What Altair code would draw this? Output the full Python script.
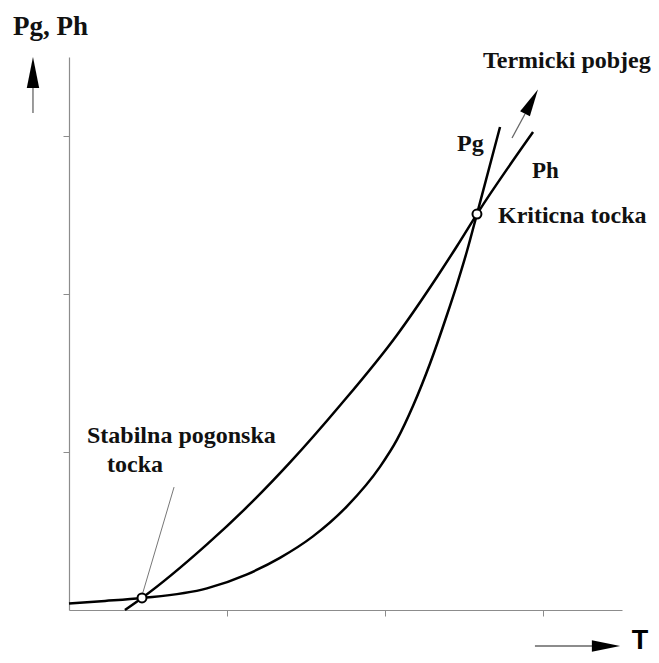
import altair as alt
import pandas as pd

# Ph curve (heat removal) and Pg curve (heat generation) vs temperature T
ph_T = [0.354, 0.462, 0.873, 1.146, 1.399, 1.715, 2.076, 2.329, 2.456, 2.582, 2.937]
ph_P = [0.000, 0.076, 0.415, 0.671, 0.934, 1.294, 1.741, 2.108, 2.304, 2.506, 3.025]
pg_T = [0.000, 0.228, 0.462, 0.873, 1.127, 1.335, 1.544, 1.759, 1.968, 2.076, 2.177,
        2.285, 2.392, 2.456, 2.519, 2.582, 2.728]
pg_P = [0.041, 0.057, 0.076, 0.137, 0.226, 0.330, 0.466, 0.656, 0.906, 1.078, 1.291,
        1.560, 1.867, 2.063, 2.272, 2.506, 3.057]
# operating points: stable and critical
point_T = [0.462, 2.582]
point_P = [0.076, 2.506]
tick_values = [1, 2, 3]

# annotation texts and anchor (data units)
label_text = ["Pg, Ph", "Termicki pobjeg", "Pg", "Ph", "Kriticna tocka", "Stabilna pogonska", "tocka"]
label_T = [-0.354, 2.620, 2.456, 2.930, 2.715, 0.114, 0.241]
label_P = [3.639, 3.430, 2.905, 2.734, 2.449, 1.057, 0.873]
label_fs = [27, 24, 24, 23, 24, 24, 24]

# leader line and arrows (data units)
leader_T = [0.665, 0.466]
leader_P = [0.778, 0.105]
shaft_T = [-0.228, 2.949, 2.804]
shaft_P = [3.146, -0.228, 2.987]
shaft_T2 = [-0.228, 3.310, 2.886]
shaft_P2 = [3.304, -0.228, 3.139]
head_T = [-0.228, 3.399, 2.927]
head_P = [3.402, -0.228, 3.218]
head_angle = [0, 90, 28]
head_size = [961, 800, 760]

xs = alt.Scale(domain=[0, 3.5], nice=False, zero=False)
ys = alt.Scale(domain=[0, 3.5], nice=False, zero=False)

axis_x = alt.Axis(values=tick_values, labels=False, title=None, grid=False, domainColor="#8c8c8c",
                  tickColor="#8c8c8c", tickSize=6, domainWidth=1.2, tickWidth=1)
axis_y = alt.Axis(values=tick_values, labels=False, title=None, grid=False, domainColor="#8c8c8c",
                  tickColor="#8c8c8c", tickSize=6, domainWidth=1.2, tickWidth=1)

X = alt.X("T:Q", scale=xs, axis=axis_x)
Y = alt.Y("P:Q", scale=ys, axis=axis_y)

curves = pd.DataFrame({
    "T": ph_T + pg_T,
    "P": ph_P + pg_P,
    "curve": ["Ph"] * len(ph_T) + ["Pg"] * len(pg_T),
    "order": list(range(len(ph_T))) + list(range(len(pg_T))),
})

lines = alt.Chart(curves).mark_line(color="black", strokeWidth=2.5, interpolate="monotone").encode(
    x=X, y=Y, detail="curve:N", order="order:Q",
)

pts = alt.Chart(pd.DataFrame({"T": point_T, "P": point_P})).mark_point(
    shape="circle", filled=True, fill="white", stroke="black", strokeWidth=2, size=80, opacity=1
).encode(x=X, y=Y)

leader = alt.Chart(pd.DataFrame({"T": leader_T, "P": leader_P})).mark_line(
    color="#777777", strokeWidth=1
).encode(x=X, y=Y)

shafts = alt.Chart(pd.DataFrame({"T": shaft_T, "P": shaft_P, "T2": shaft_T2, "P2": shaft_P2})).mark_rule(
    color="#666666", strokeWidth=1.3
).encode(x=X, y=Y, x2="T2:Q", y2="P2:Q")

heads = alt.Chart(pd.DataFrame({"T": head_T, "P": head_P, "a": head_angle, "s": head_size})).mark_point(
    shape="M0,-1L0.4,1L-0.4,1Z", filled=True, color="black", opacity=1
).encode(
    x=X, y=Y,
    angle=alt.Angle("a:Q", scale=None), size=alt.Size("s:Q", scale=None),
)

labels = alt.Chart(pd.DataFrame({"T": label_T, "P": label_P, "t": label_text, "fs": label_fs})).mark_text(
    font="Liberation Serif", fontWeight="bold", align="left", baseline="alphabetic", color="#111111"
).encode(
    x=X, y=Y, text="t:N", size=alt.Size("fs:Q", scale=None),
)

t_label = alt.Chart(pd.DataFrame({"T": [3.614], "P": [-0.196], "t": ["T"]})).mark_text(
    font="Liberation Sans", fontSize=27, fontWeight="bold", align="center", baseline="middle",
    color="black"
).encode(x=X, y=Y, text="t:N")

chart = alt.layer(lines, leader, pts, shafts, heads, labels, t_label).properties(
    width=553, height=553,
    background="white",
    autosize=alt.AutoSizeParams(type="none"),
    padding={"left": 61, "top": 49, "right": 29, "bottom": 45},
).configure_view(stroke=None)

chart.save("out.html", embed_options={"renderer": "svg", "actions": False})
